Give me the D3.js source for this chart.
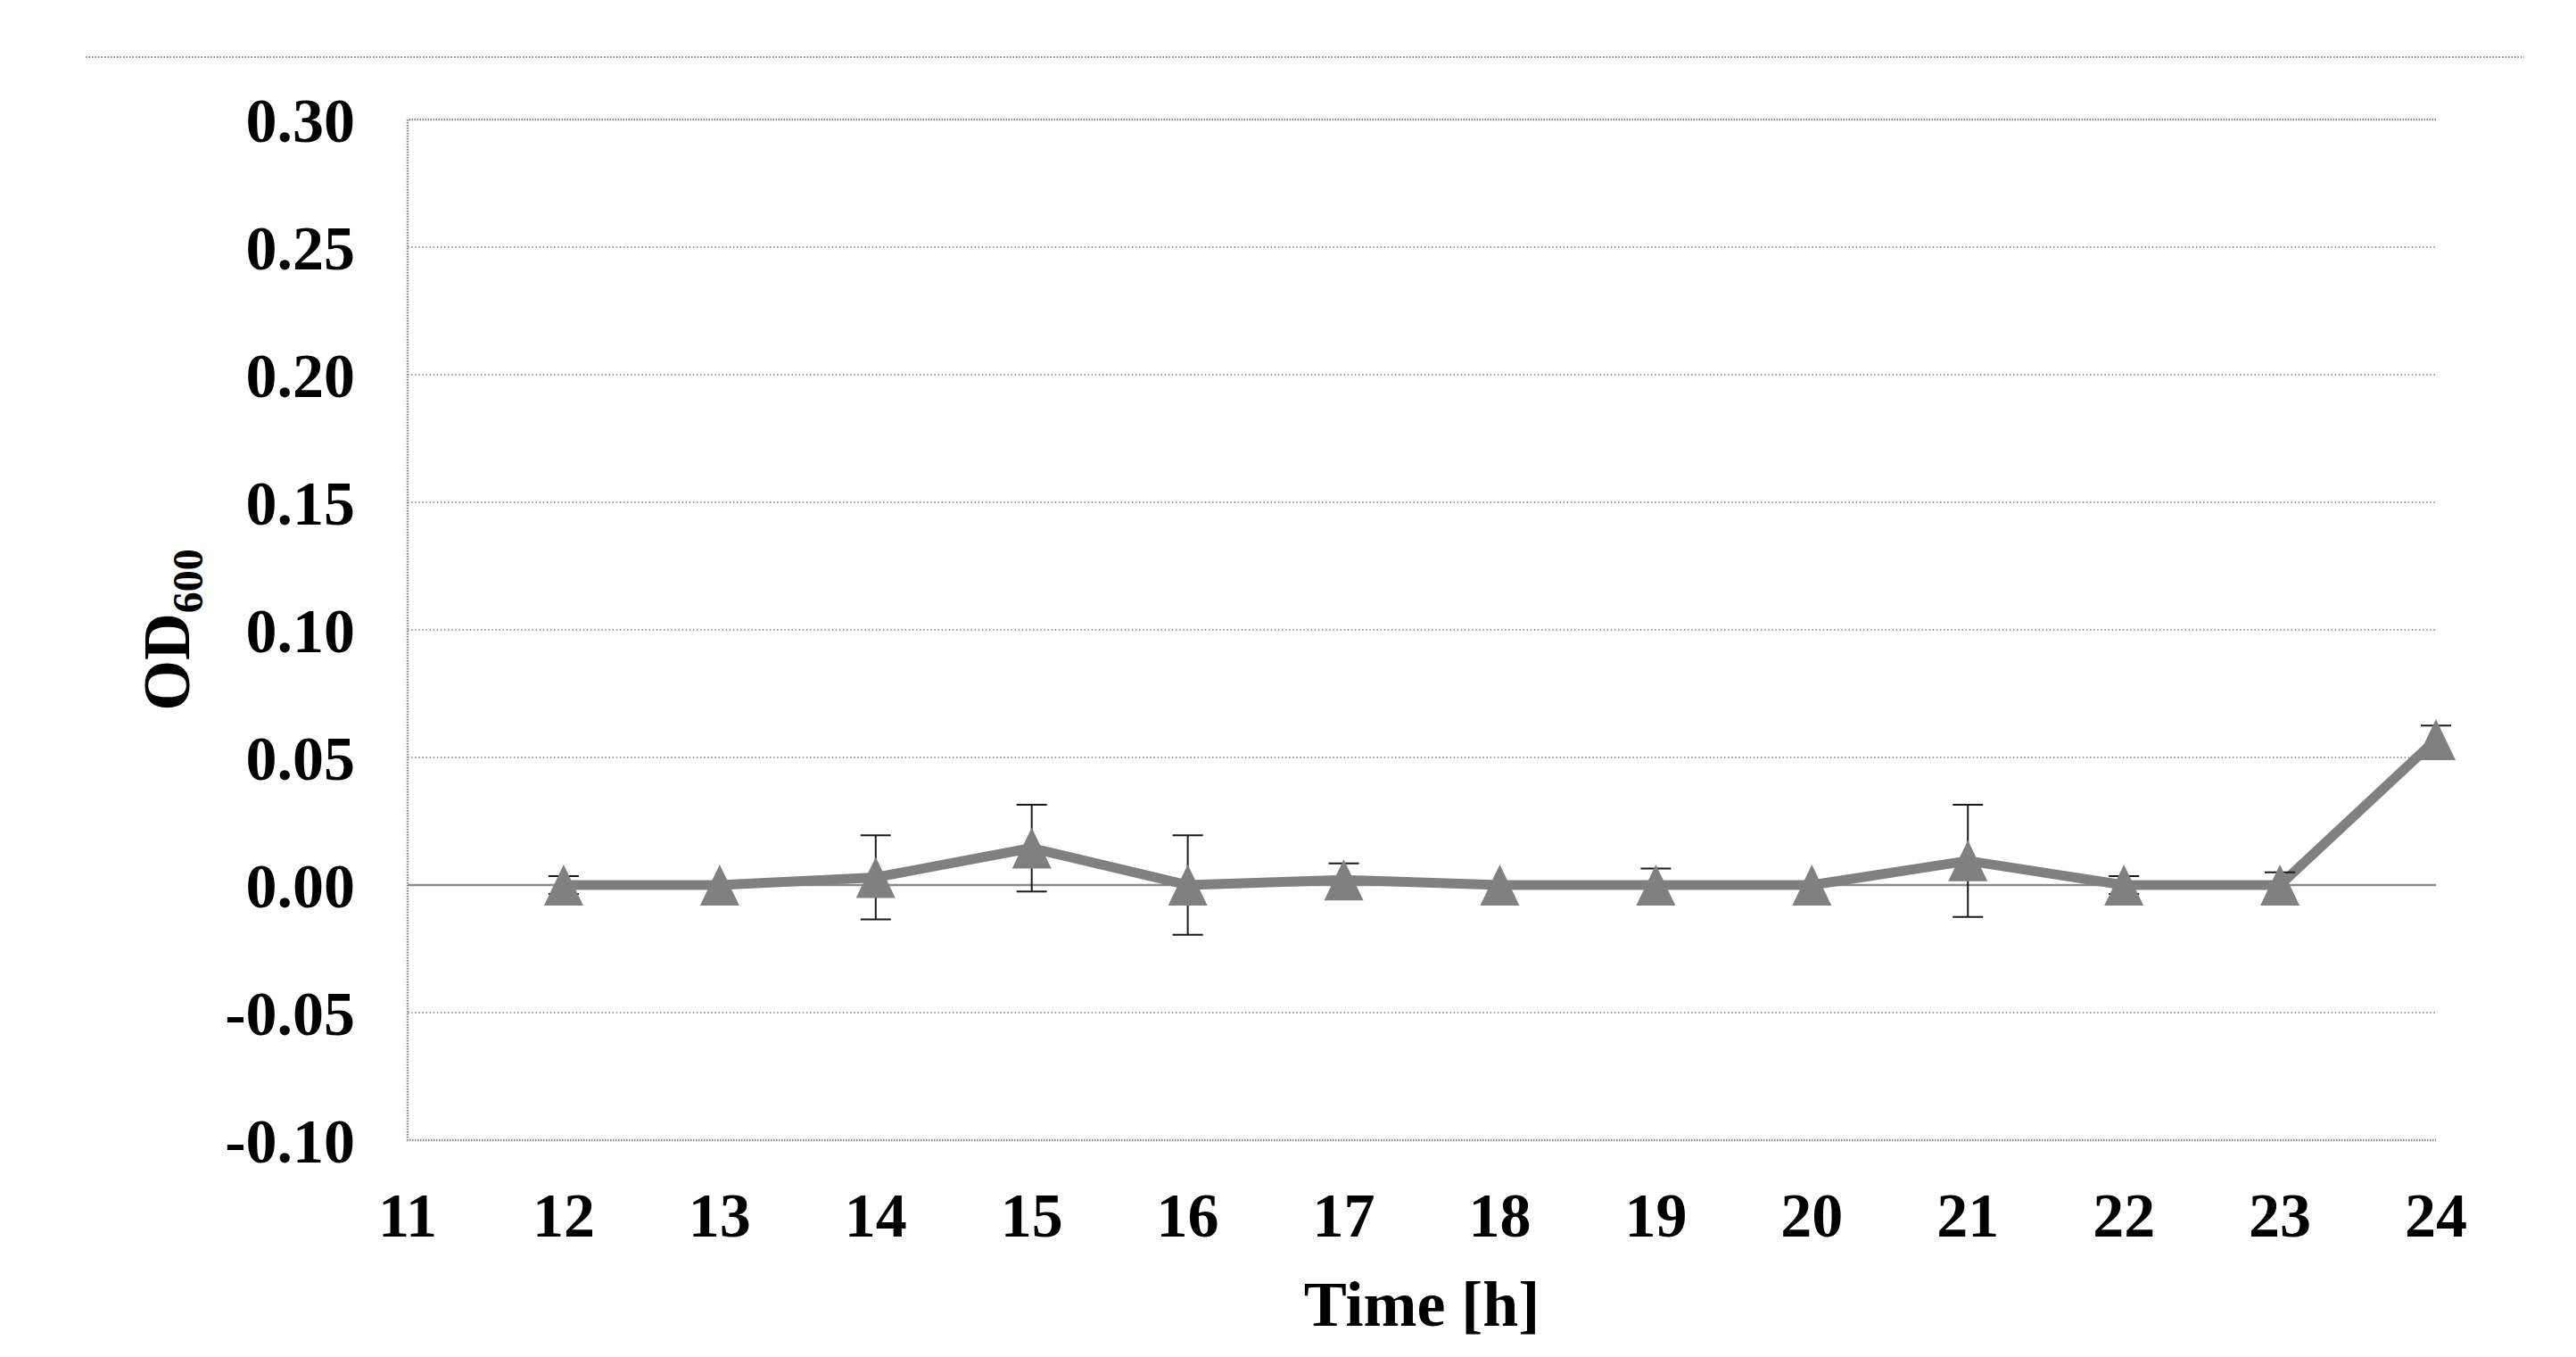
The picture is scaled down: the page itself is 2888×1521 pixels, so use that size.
<!DOCTYPE html>
<html>
<head>
<meta charset="utf-8">
<script src="https://cdn.jsdelivr.net/npm/d3@7"></script>
<style>
  html, body { margin: 0; padding: 0; background: #fff; }
  svg { display: block; }
  text { font-family: "Liberation Serif", "Times New Roman", serif; font-weight: bold; fill: #000; }
</style>
</head>
<body>
<svg id="chart" width="2888" height="1521"></svg>
<script>
// ---- data ----
const hours = [12, 13, 14, 15, 16, 17, 18, 19, 20, 21, 22, 23, 24];
const od600 = [0.000, 0.000, 0.003, 0.0145, 0.000, 0.002, 0.000, 0.000, 0.000, 0.0095, 0.000, 0.000, 0.057];
const od600Err = [0.0035, 0, 0.0165, 0.017, 0.0195, 0.0065, 0, 0.0065, 0, 0.022, 0.0035, 0.005, 0.0055];
const xTicks = [11, 12, 13, 14, 15, 16, 17, 18, 19, 20, 21, 22, 23, 24];
const yTicks = [-0.10, -0.05, 0.00, 0.05, 0.10, 0.15, 0.20, 0.25, 0.30];

(function () {
// ---- layout ----
const svg = d3.select("#chart");
const pL = 457, pR = 2731, pT = 134, pB = 1278;
const x = d3.scaleLinear().domain([11, 24]).range([pL, pR]);
const y = d3.scaleLinear().domain([-0.10, 0.30]).range([pB, pT]);

svg.append("rect").attr("width", 2888).attr("height", 1521).attr("fill", "#fff");

// top separator dotted line
svg.append("line")
  .attr("x1", 96).attr("x2", 2830).attr("y1", 64).attr("y2", 64)
  .attr("stroke", "#8a8a8a").attr("stroke-width", 2).attr("stroke-dasharray", "1.5 2");

// gridlines
const gridVals = yTicks.filter(v => Math.abs(v) > 1e-9 && v > -0.099 && v < 0.299);
svg.append("g").selectAll("line").data(gridVals).join("line")
  .attr("x1", pL).attr("x2", pR)
  .attr("y1", d => y(d)).attr("y2", d => y(d))
  .attr("stroke", "#7c7c7c").attr("stroke-width", 1.6).attr("stroke-dasharray", "1.5 2.6");

// plot border (top, left, bottom) dotted, denser
const border = d3.path();
border.moveTo(pR, y(0.30)); border.lineTo(pL, y(0.30));
border.lineTo(pL, y(-0.10)); border.lineTo(pR, y(-0.10));
svg.append("path").attr("d", border.toString()).attr("fill", "none")
  .attr("stroke", "#8a8a8a").attr("stroke-width", 2.5).attr("stroke-dasharray", "1.5 1.5");

// zero axis line
svg.append("line")
  .attr("x1", pL).attr("x2", pR).attr("y1", y(0)).attr("y2", y(0))
  .attr("stroke", "#8a8a8a").attr("stroke-width", 2.5);

// y tick labels
const fmt = d3.format(".2f");
svg.append("g").selectAll("text").data(yTicks).join("text")
  .attr("x", 398).attr("y", d => y(d))
  .attr("dy", "0.35em")
  .attr("text-anchor", "end")
  .attr("font-size", 70)
  .text(d => fmt(d).replace("\u2212", "-"));

// x tick labels
svg.append("g").selectAll("text").data(xTicks).join("text")
  .attr("x", d => x(d)).attr("y", 1386)
  .attr("text-anchor", "middle")
  .attr("font-size", 70)
  .text(d => d);

// axis titles
svg.append("text")
  .attr("x", (pL + pR) / 2).attr("y", 1486)
  .attr("text-anchor", "middle")
  .attr("font-size", 72)
  .text("Time [h]");

const yt = svg.append("text")
  .attr("transform", `translate(212, ${(pT + pB) / 2}) rotate(-90)`)
  .attr("text-anchor", "middle")
  .attr("font-size", 73);
yt.append("tspan").text("OD");
yt.append("tspan").attr("font-size", 48).attr("dy", 15).text("600");

// data
const pts = hours.map((h, i) => ({ h, v: od600[i], e: od600Err[i] }));
const lineGen = d3.line().x(d => x(d.h)).y(d => y(d.v));
const grey = "#808080";

svg.append("path").datum(pts).attr("d", lineGen)
  .attr("fill", "none").attr("stroke", grey).attr("stroke-width", 11)
  .attr("stroke-linejoin", "round");

// error bars (behind markers)
const eb = svg.append("g").attr("stroke", "#1a1a1a").attr("stroke-width", 2).attr("fill", "none");
const capW = 34;
eb.selectAll("path").data(pts.filter(d => d.e > 0)).join("path")
  .attr("d", d => {
    const cx = x(d.h), y1 = y(d.v + d.e), y2 = y(d.v - d.e);
    const p = d3.path();
    p.moveTo(cx, y1); p.lineTo(cx, y2);
    p.moveTo(cx - capW / 2, y1); p.lineTo(cx + capW / 2, y1);
    p.moveTo(cx - capW / 2, y2); p.lineTo(cx + capW / 2, y2);
    return p.toString();
  });

// triangle markers
const tw = 44, th = 46;
svg.append("g").selectAll("path").data(pts).join("path")
  .attr("d", d => {
    const cx = x(d.h), cy = y(d.v);
    const p = d3.path();
    p.moveTo(cx, cy - th / 2);
    p.lineTo(cx + tw / 2, cy + th / 2);
    p.lineTo(cx - tw / 2, cy + th / 2);
    p.closePath();
    return p.toString();
  })
  .attr("fill", grey);
})();
</script>
</body>
</html>
